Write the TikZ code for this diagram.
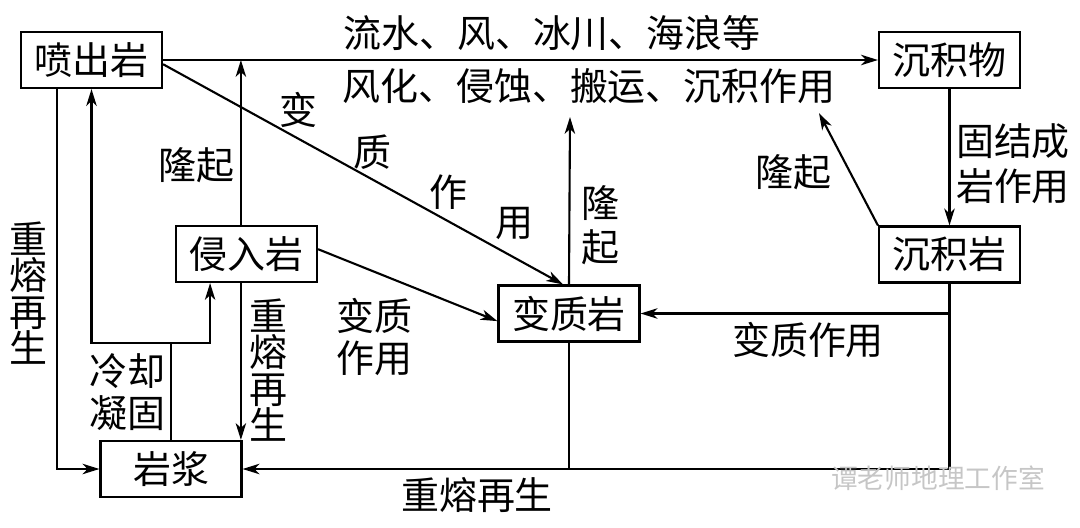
\documentclass[tikz,border=0pt]{standalone}
\usepackage{fontspec}
\newfontfamily\cjkfont{Noto Sans CJK SC}
\usetikzlibrary{arrows.meta}
\tikzset{
    rock/.style = {draw, line width = 1.5pt, minimum width = 3.525cm, minimum height = 1.4cm, inner sep = 0pt, font = \cjkfont\fontsize{27}{30}\selectfont},
    flow/.style = {line width = 1.5pt, -{Stealth[length = 0.42cm, width = 0.26cm, inset = 0.12cm]}},
    plain/.style = {line width = 1.5pt},
    word/.style = {inner sep = 0pt, align = center, font = \cjkfont\fontsize{27}{#1}\selectfont},
    word/.default = 30
}
\begin{document}
\begin{tikzpicture}[x = 0.025cm, y = -0.025cm]
        \useasboundingbox (0,0) rectangle (1080,527);
        % rocks
        \node[rock] (pc) at (91.5,60) {喷出岩};
        \node[rock] (qr) at (246.5,254) {侵入岩};
        \node[rock] (bz) at (569,313.5) {变质岩};
        \node[rock] (cjw) at (949.5,60) {沉积物};
        \node[rock] (cjy) at (949.5,254.5) {沉积岩};
        \node[rock] (yj) at (171,469) {岩浆};
        \coordinate (lq) at (171,343);
        \coordinate (bzup) at (570,117);
        \coordinate (cjyup) at (819,113);
        % arrows
        \draw[flow] (pc.east) -- (cjw.west);
        \draw[flow] ([xshift = -0.14cm]qr.north) -- ([xshift = -0.14cm]qr.north |- pc.east);
        \draw[flow] ([yshift = -3pt]pc.east) -- ([xshift = -0.15cm]bz.north);
        \draw[flow] ([yshift = 0.12cm]qr.east) -- ([yshift = -0.19cm]bz.west);
        \draw[flow] (bz.north) -- (bzup);
        \draw[flow] (cjy.north west) -- (cjyup);
        \draw[flow] (cjw.south) -- (cjy.north);
        \draw[flow] (cjy.south |- bz.east) -- (bz.east);
        \draw[flow] (cjy.south) |- (yj.east);
        \draw[plain] (bz.south) -- (bz.south |- yj.east);
        \draw[flow] ([xshift = -0.86cm]pc.south) |- (yj.west);
        \draw[flow] (yj.north) -- (lq) -| (pc.south);
        \draw[flow] (lq) -| ([xshift = -0.91cm]qr.south);
        \draw[flow] ([xshift = -0.14cm]qr.south) -- ([xshift = -0.14cm]qr.south |- yj.north);
        % labels
        \begin{scope}[every node/.append style = {word}]
            \node (ls) at (552,33) {流水、风、冰川、海浪等};
            \node (fh) at (589,86) {风化、侵蚀、搬运、沉积作用};
            \node (d1) at (298,110) {变};
            \node (d2) at (372,152) {质};
            \node (d3) at (448,192) {作};
            \node (d4) at (514,223) {用};
            \node (lq1) at (196.5,165) {隆起};
            \node (lq3) at (793,172) {隆起};
            \node (cr3) at (477,495) {重熔再生};
            \node (bzzy2) at (808,340) {变质作用};
        \end{scope}
        \node[word = 26] (cr1) at (28,293) {重\\熔\\再\\生};
        \node[word = 26] (cr2) at (268,370) {重\\熔\\再\\生};
        \node[word = 30] (lqng) at (127,392) {冷却\\凝固};
        \node[word = 30] (bzzy1) at (374,337) {变质\\作用};
        \node[word = 31] (lq2) at (600,225) {隆\\起};
        \node[word = 32] (gj) at (1013,164) {固结成\\岩作用};
        \node[inner sep = 0pt, text = gray!45, font = \cjkfont\fontsize{19}{22}\selectfont] (wm) at (938,478) {谭老师地理工作室};
    \end{tikzpicture}
\end{document}
